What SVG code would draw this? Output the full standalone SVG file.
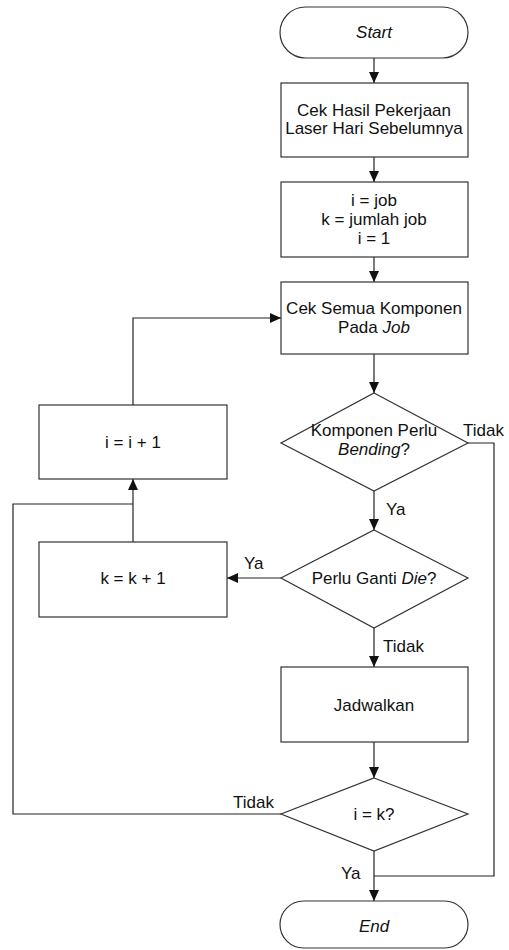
<svg xmlns="http://www.w3.org/2000/svg" width="509" height="950" viewBox="0 0 509 950">
<style>
.s{fill:#fff;stroke:#333;stroke-width:1.2}
.c{fill:none;stroke:#222;stroke-width:1.2}
text{font-family:"Liberation Sans",Arial,sans-serif;font-size:17px;fill:#111;text-anchor:middle}
.l{text-anchor:start}
.i{font-style:italic}
</style>
<defs>
<marker id="a" markerUnits="userSpaceOnUse" markerWidth="11" markerHeight="10" refX="11" refY="5" orient="auto">
<path d="M0,0 L11,5 L0,10 z" fill="#111"/>
</marker>
</defs>
<rect width="509" height="950" fill="#fff"/>
<g id="connectors">
<line class="c" x1="374" y1="58" x2="374" y2="83" marker-end="url(#a)"/>
<line class="c" x1="374" y1="157" x2="374" y2="182" marker-end="url(#a)"/>
<line class="c" x1="374" y1="257" x2="374" y2="282" marker-end="url(#a)"/>
<line class="c" x1="374" y1="354" x2="374" y2="393" marker-end="url(#a)"/>
<line class="c" x1="374" y1="491" x2="374" y2="530" marker-end="url(#a)"/>
<line class="c" x1="374" y1="628" x2="374" y2="667" marker-end="url(#a)"/>
<line class="c" x1="374" y1="742" x2="374" y2="778" marker-end="url(#a)"/>
<line class="c" x1="374" y1="851" x2="374" y2="901" marker-end="url(#a)"/>
<polyline class="c" points="468,443 494,443 494,876 374,876"/>
<line class="c" x1="281" y1="578" x2="227" y2="578" marker-end="url(#a)"/>
<line class="c" x1="133" y1="542" x2="133" y2="479" marker-end="url(#a)"/>
<polyline class="c" points="281,814 13,814 13,504 133,504"/>
<polyline class="c" points="133,405 133,318 281,318" marker-end="url(#a)"/>
<text class="l" x="463" y="436">Tidak</text>
<text class="l" x="386" y="515">Ya</text>
<text class="l" x="244" y="569">Ya</text>
<text class="l" x="383" y="652">Tidak</text>
<text class="l" x="233" y="808">Tidak</text>
<text class="l" x="341" y="879">Ya</text>
</g>
<g id="start">
<rect class="s" x="280" y="7" width="188" height="51" rx="25.5"/>
<text class="i" x="374" y="38">Start</text>
</g>
<g id="cek-hasil">
<rect class="s" x="281" y="83" width="187" height="74"/>
<text x="374" y="116">Cek Hasil Pekerjaan</text>
<text x="374" y="134">Laser Hari Sebelumnya</text>
</g>
<g id="init">
<rect class="s" x="281" y="182" width="187" height="75"/>
<text x="374" y="206">i = job</text>
<text x="374" y="225">k = jumlah job</text>
<text x="374" y="244">i = 1</text>
</g>
<g id="cek-semua">
<rect class="s" x="281" y="282" width="187" height="72"/>
<text x="374" y="314">Cek Semua Komponen</text>
<text x="374" y="333">Pada <tspan class="i">Job</tspan></text>
</g>
<g id="perlu-bending">
<polygon class="s" points="374,393 468,443 374,491 281,443"/>
<text x="374" y="436">Komponen Perlu</text>
<text x="374" y="455"><tspan class="i">Bending</tspan>?</text>
</g>
<g id="i-plus">
<rect class="s" x="39" y="405" width="188" height="74"/>
<text x="133" y="448">i = i + 1</text>
</g>
<g id="ganti-die">
<polygon class="s" points="374,530 468,578 374,628 281,578"/>
<text x="374" y="584">Perlu Ganti <tspan class="i">Die</tspan>?</text>
</g>
<g id="k-plus">
<rect class="s" x="39" y="542" width="188" height="75"/>
<text x="133" y="584">k = k + 1</text>
</g>
<g id="jadwalkan">
<rect class="s" x="281" y="667" width="187" height="75"/>
<text x="374" y="711">Jadwalkan</text>
</g>
<g id="i-eq-k">
<polygon class="s" points="374,778 468,814 374,851 281,814"/>
<text x="374" y="820">i = k?</text>
</g>
<g id="end">
<rect class="s" x="280" y="901" width="188" height="47" rx="23.5"/>
<text class="i" x="374" y="932">End</text>
</g>
</svg>
